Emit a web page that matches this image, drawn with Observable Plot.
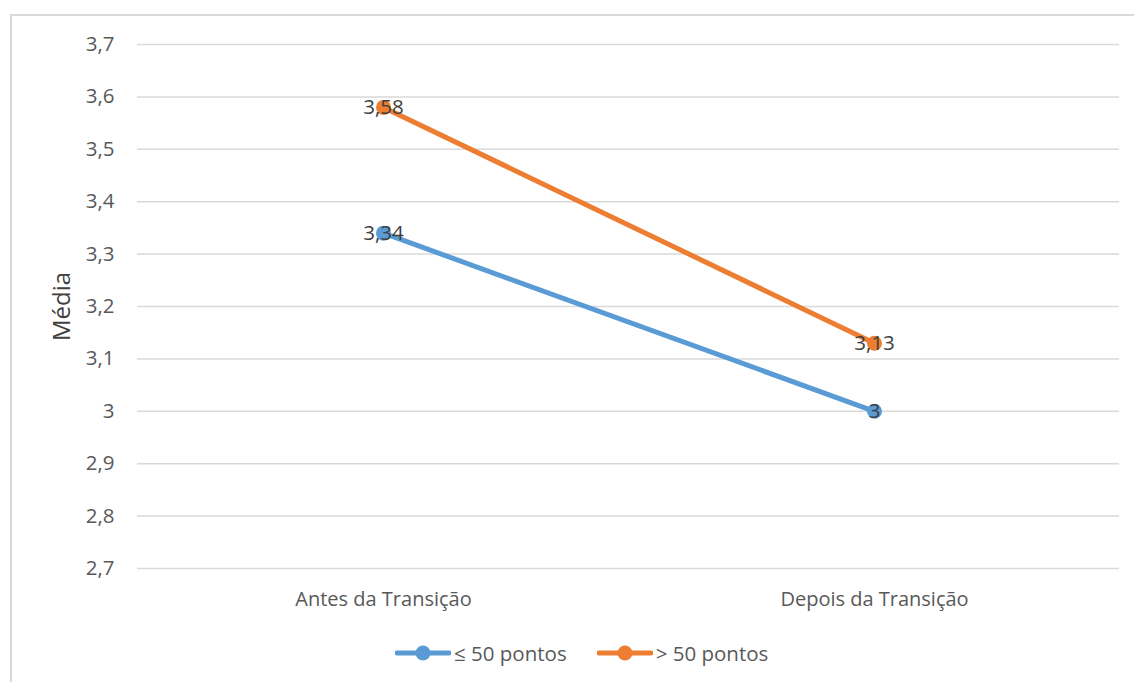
<!DOCTYPE html>
<html><head><meta charset="utf-8">
<script src="https://cdn.jsdelivr.net/npm/d3@7"></script>
<script src="https://cdn.jsdelivr.net/npm/@observablehq/plot@0.6"></script>
<style>
body{margin:0;background:#fff;font-family:"Open Sans",sans-serif;width:1134px;height:682px;overflow:hidden;position:relative}
#frame{position:absolute;left:10px;top:14px;width:1140px;height:700px;border-left:2px solid #d9d9d9;border-top:2px solid #d9d9d9;box-sizing:border-box}
#chart{position:absolute;left:0;top:0}
#legend{position:absolute;left:395px;top:639px;display:flex;align-items:center;font-size:20.5px;color:#595959}
#legend .item{display:flex;align-items:center;margin-right:30px}
#legend svg{margin-right:3px}
</style></head>
<body>
<div id="frame"></div>
<div id="chart"></div>
<div id="legend"></div>
<script>
const categories = ["Antes da Transição", "Depois da Transição"];
const seriesNames = ["≤ 50 pontos", "> 50 pontos"];
const lowValues = [3.34, 3.00];
const highValues = [3.58, 3.13];
const yTicks = [2.7, 2.8, 2.9, 3.0, 3.1, 3.2, 3.3, 3.4, 3.5, 3.6, 3.7];
const colors = ["#5B9BD5", "#ED7D31"];

const fmt = v => String(Math.round(v * 100) / 100).replace(".", ",");
const data = [];
categories.forEach((c, i) => {
  data.push({cat: c, series: seriesNames[0], value: lowValues[i]});
  data.push({cat: c, series: seriesNames[1], value: highValues[i]});
});

const plot = Plot.plot({
  width: 1134, height: 620,
  marginLeft: 137, marginRight: 15, marginTop: 44, marginBottom: 52,
  style: {fontFamily: '"Open Sans", sans-serif', fontSize: "20px", color: "#595959", background: "transparent"},
  x: {type: "point", domain: categories, padding: 0.5, label: null},
  y: {domain: [2.7, 3.7], label: null},
  color: {domain: seriesNames, range: colors},
  marks: [
    Plot.ruleY(yTicks, {stroke: "#d9d9d9", strokeWidth: 1.5}),
    Plot.axisX({tickSize: 0, tickPadding: 23, fontSize: 20, fill: "#595959", label: null}),
    Plot.axisY({ticks: yTicks, tickFormat: fmt, tickSize: 0, tickPadding: 23, fontSize: 20.5, fill: "#595959", label: null}),
    Plot.line(data, {x: "cat", y: "value", z: "series", stroke: "series", strokeWidth: 5, strokeLinecap: "round"}),
    Plot.dot(data, {x: "cat", y: "value", fill: "series", r: 7.5}),
    Plot.text(data, {x: "cat", y: "value", text: d => fmt(d.value), fill: "#404040", fontSize: 20.5}),
    Plot.text(["Média"], {frameAnchor: "left", dx: -75, rotate: -90, textAnchor: "middle", lineAnchor: "middle", fontSize: 24, fill: "#404040"})
  ]
});
document.getElementById("chart").appendChild(plot);

const leg = document.getElementById("legend");
seriesNames.forEach((s, i) => {
  const item = document.createElement("div");
  item.className = "item";
  item.innerHTML = `<svg width="56" height="16"><line x1="2" y1="8" x2="54" y2="8" stroke="${colors[i]}" stroke-width="5" stroke-linecap="round"/><circle cx="28" cy="8" r="7.5" fill="${colors[i]}"/></svg><span>${s}</span>`;
  leg.appendChild(item);
});
</script>
</body></html>
